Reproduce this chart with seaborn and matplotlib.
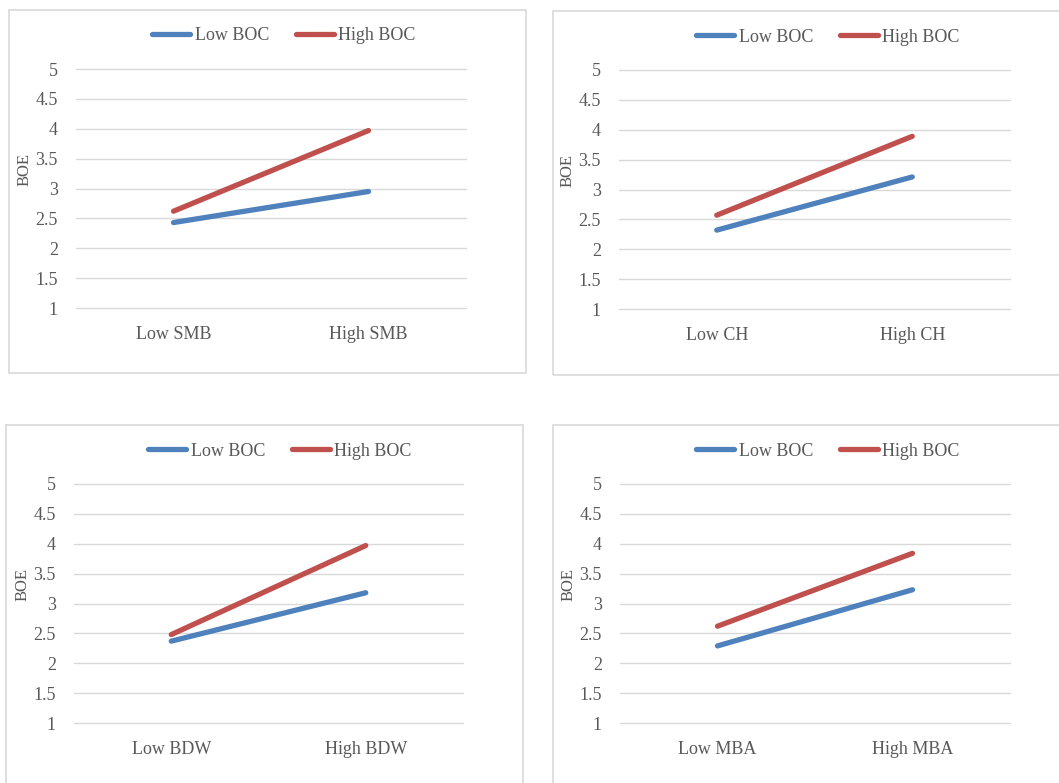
import numpy as np
import pandas as pd
import matplotlib.pyplot as plt
import seaborn as sns
from matplotlib.patches import Rectangle
from matplotlib.lines import Line2D

# data
moderators = ["SMB", "CH", "BDW", "MBA"]
boc_groups = ["Low BOC", "High BOC"]
low_boc = [[2.43, 2.95], [2.32, 3.21], [2.37, 3.18], [2.29, 3.23]]
high_boc = [[2.62, 3.97], [2.57, 3.89], [2.48, 3.97], [2.62, 3.84]]
y_ticks = [1, 1.5, 2, 2.5, 3, 3.5, 4, 4.5, 5]

colors = {"Low BOC": "#4F81BD", "High BOC": "#C0504D"}
txt_col = "#595959"
grid_col = "#D9D9D9"

sns.set_style("white")
plt.rcParams["font.family"] = ["Liberation Serif", "DejaVu Serif"]

W, H = 1059, 783
fig = plt.figure(figsize=(W / 100, H / 100), dpi=100)


def px(l, t, r, b):
    return [l / W, 1 - b / H, (r - l) / W, (b - t) / H]


# plot areas and panel boxes, in pixels (left, top, right, bottom)
axes_px = [(76, 69, 466, 308), (619, 70, 1010, 309),
           (74, 484, 463, 723), (620, 484, 1010, 723)]
box_px = [(9, 10, 526, 373), (553, 11, 1075, 375),
          (6, 425, 523, 795), (553, 425, 1075, 795)]
legend_xy = [(284, 36), (828, 37), (280, 451), (828, 451)]

for i, m in enumerate(moderators):
    levels = ["Low " + m, "High " + m]
    df = pd.DataFrame({
        "level": levels * 2,
        "BOE": low_boc[i] + high_boc[i],
        "BOC": [boc_groups[0]] * 2 + [boc_groups[1]] * 2,
    })

    l, t, r, b = box_px[i]
    fig.patches.append(Rectangle((l / W, 1 - b / H), (r - l) / W, (b - t) / H,
                                 transform=fig.transFigure, fill=False,
                                 edgecolor=grid_col, lw=1.2))

    ax = fig.add_axes(px(*axes_px[i]))
    sns.lineplot(data=df, x="level", y="BOE", hue="BOC", palette=colors,
                 hue_order=boc_groups, sort=False, linewidth=3.8,
                 solid_capstyle="round", legend=False, ax=ax, zorder=3)

    ax.set_xlim(-0.5, 1.5)
    ax.set_ylim(1, 5)
    ax.set_yticks(y_ticks)
    ax.set_yticklabels([f"{v:g}" for v in y_ticks])
    ax.grid(axis="y", color=grid_col, lw=1)
    ax.grid(axis="x", visible=False)
    for gl in ax.get_ygridlines():
        gl.set_clip_on(False)
    for s in ax.spines.values():
        s.set_visible(False)
    ax.tick_params(axis="both", length=0, labelsize=13, labelcolor=txt_col)
    ax.tick_params(axis="y", pad=13)
    ax.tick_params(axis="x", pad=13)
    ax.set_xlabel("")
    ax.set_ylabel("BOE", fontsize=12, color=txt_col)
    ax.yaxis.set_label_coords(-0.112, 0.58)

    handles = [Line2D([], [], color=colors[g], lw=3.8, solid_capstyle="round")
                for g in boc_groups]
    lx, ly = legend_xy[i]
    leg = ax.legend(handles, boc_groups, loc="center", ncol=2, frameon=False,
                    bbox_to_anchor=(lx / W, 1 - ly / H),
                    bbox_transform=fig.transFigure, fontsize=13,
                    handlelength=2.1, handletextpad=0.25, columnspacing=1.5)
    for tx in leg.get_texts():
        tx.set_color(txt_col)

fig.savefig("out.png", dpi=100)
